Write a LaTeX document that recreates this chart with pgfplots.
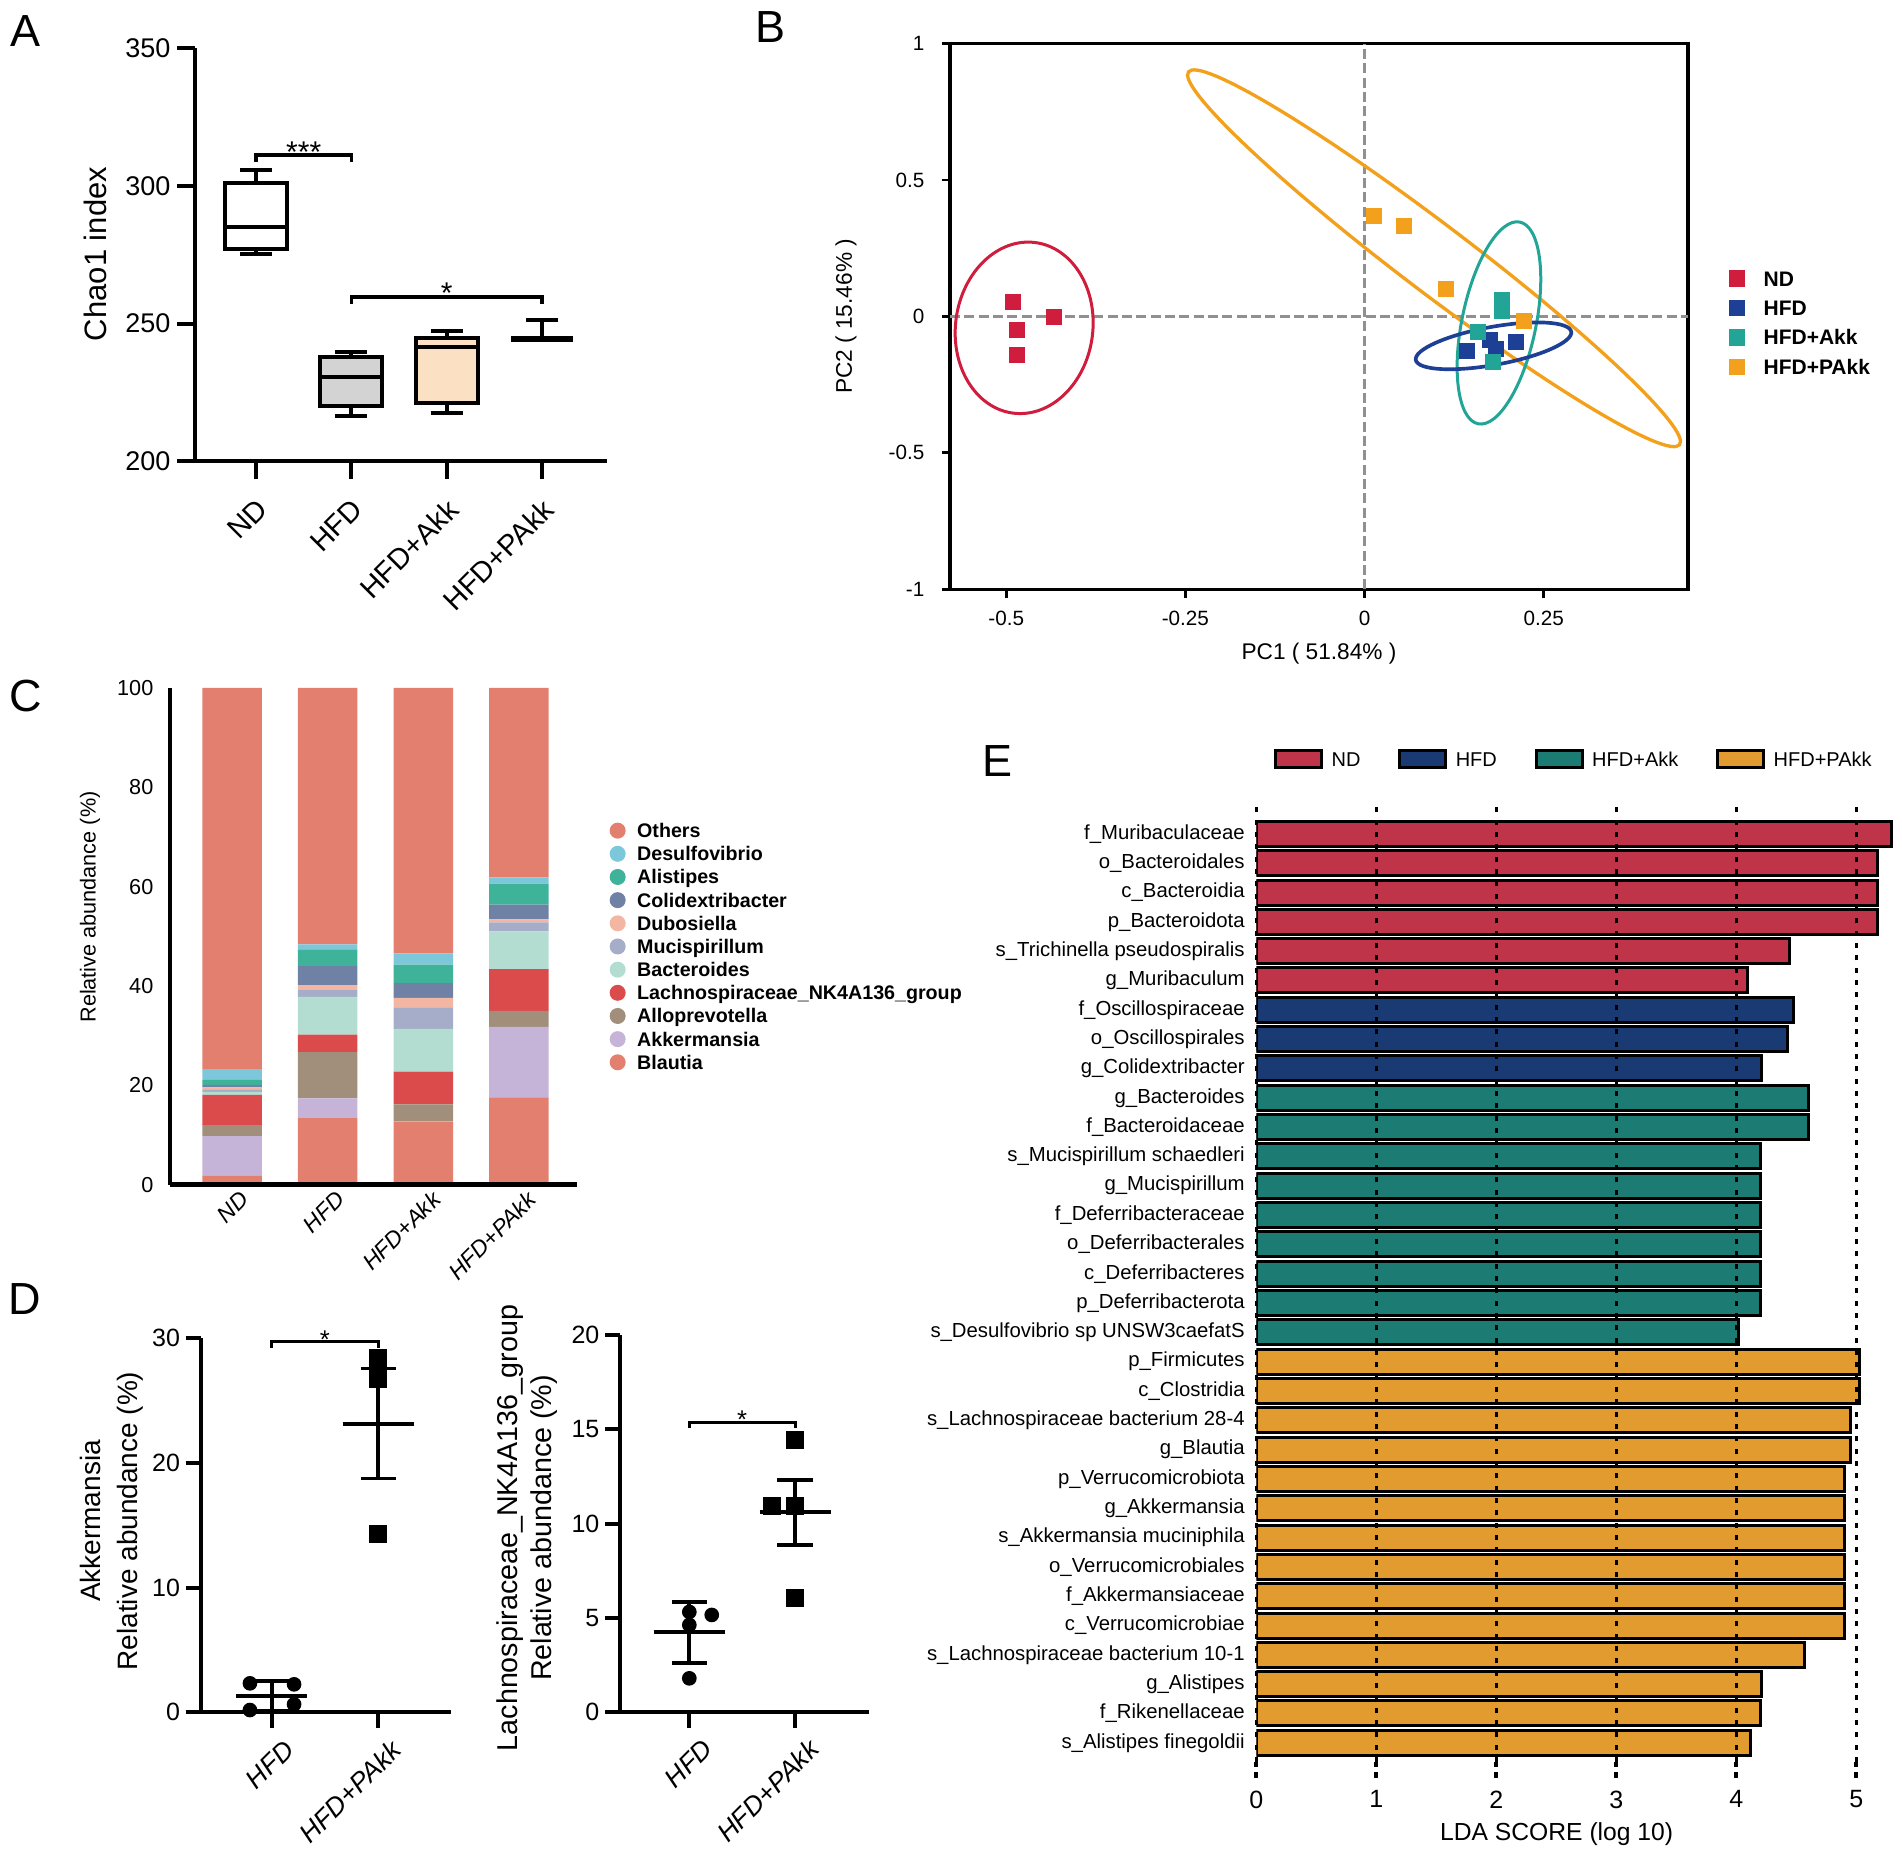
\documentclass[border=0pt]{standalone}
\usepackage{fontspec}
\setmainfont{Liberation Sans}
\usepackage{pgfplots}
\pgfplotsset{compat=1.18}
\pgfplotsset{/pgf/number format/assume math mode=true}

\newcommand\fs[2]{\fontsize{#1}{#2}\selectfont}

% panel A
\definecolor{aHFD}{HTML}{D3D3D3}
\definecolor{aAkk}{HTML}{FCE0C3}
% panel B
\definecolor{bND}{HTML}{D01C3D}
\definecolor{bHFD}{HTML}{1E3F96}
\definecolor{bAkk}{HTML}{22A597}
\definecolor{bPAkk}{HTML}{F3A11C}
\definecolor{dgray}{HTML}{909090}
% panel C
\definecolor{cOthers}{HTML}{E27F6E}
\definecolor{cDesulfo}{HTML}{7CC8DA}
\definecolor{cAlistipes}{HTML}{3FB39A}
\definecolor{cColidex}{HTML}{6F82A6}
\definecolor{cDubo}{HTML}{F3B6A2}
\definecolor{cMuci}{HTML}{A6ADC8}
\definecolor{cBacter}{HTML}{B3DDD1}
\definecolor{cLachno}{HTML}{DC4B4B}
\definecolor{cAllo}{HTML}{A18F7C}
\definecolor{cAkk}{HTML}{C6B4D8}
% panel E
\definecolor{eND}{HTML}{C0344A}
\definecolor{eHFD}{HTML}{193A72}
\definecolor{eAkk}{HTML}{1C7B72}
\definecolor{ePAkk}{HTML}{E19B2F}

\begin{document}
\begin{tikzpicture}
\path[use as bounding box] (0,0) rectangle (570.6pt,556.2pt);

%% ---------------- A: Chao1 boxplots (box = quartiles, whiskers = min/max)
\begin{axis}[
  at={(58.5pt,417.75pt)}, anchor=south west, scale only axis,
  width=123.6pt, height=124.05pt,
  xmin=0.36, xmax=4.682, ymin=200, ymax=350,
  axis x line*=bottom, axis y line*=left,
  axis line style={line width=1.2pt},
  tick align=outside, major tick length=5.4pt,
  tick style={black, line width=1.2pt},
  xtick={1,2,3,4}, xticklabels={ND,HFD,HFD+Akk,HFD+PAkk},
  ytick={200,250,300,350},
  tick label style={font=\fs{8.1}{9}},
  yticklabel style={inner sep=0pt, xshift=-1.8pt},
  xticklabel style={font=\fs{8.7}{9}, rotate=45, anchor=north east, inner sep=0pt, xshift=-3.8pt, yshift=-3.3pt},
  ylabel={Chao1 index},
  ylabel style={font=\fs{9.3}{10}, at={(axis description cs:-0.2427,0.5018)}, anchor=center},
  clip=false,
]
% boxes (lower quartile to upper quartile)
\addplot[draw=black, fill=white, line width=1.2pt]
  coordinates {(0.675,277.2) (1.325,277.2) (1.325,301.2) (0.675,301.2)} --cycle;
\addplot[draw=black, fill=aHFD, line width=1.2pt]
  coordinates {(1.675,220.2) (2.325,220.2) (2.325,238.0) (1.675,238.0)} --cycle;
\addplot[draw=black, fill=aAkk, line width=1.2pt]
  coordinates {(2.675,221.2) (3.325,221.2) (3.325,244.7) (2.675,244.7)} --cycle;
% medians, whiskers and caps
\addplot[black, line width=1.2pt, unbounded coords=jump] coordinates {
  (0.675,285.1) (1.325,285.1) (1,nan)
  (1,301.2) (1,305.6) (1,nan) (0.833,305.6) (1.167,305.6) (1,nan)
  (1,277.2) (1,275.4) (1,nan) (0.833,275.4) (1.167,275.4) (1,nan)
  (1.675,230.7) (2.325,230.7) (2,nan)
  (2,238.0) (2,239.8) (2,nan) (1.833,239.8) (2.167,239.8) (2,nan)
  (2,220.2) (2,216.5) (2,nan) (1.833,216.5) (2.167,216.5) (2,nan)
  (2.675,241.6) (3.325,241.6) (3,nan)
  (3,244.7) (3,247.4) (3,nan) (2.833,247.4) (3.167,247.4) (3,nan)
  (3,221.2) (3,217.7) (3,nan) (2.833,217.7) (3.167,217.7) (3,nan)
  (4,244.4) (4,251.2) (4,nan) (3.833,251.2) (4.167,251.2)};
\addplot[black, line width=1.9pt] coordinates {(3.675,244.4) (4.325,244.4)};
% significance brackets
\addplot[black, line width=1pt] coordinates {(1,308.8) (1,311.2) (2,311.2) (2,308.8)};
\node[anchor=north, inner sep=0pt, font=\fs{9}{10}] at (axis cs:1.5,316.2) {***};
\addplot[black, line width=1pt] coordinates {(2,257.2) (2,259.7) (4,259.7) (4,257.2)};
\node[anchor=north, inner sep=0pt, font=\fs{9}{10}] at (axis cs:3,264.9) {*};
\end{axis}

%% ---------------- B: PCA
\begin{axis}[
  at={(285pt,379.44pt)}, anchor=south west, scale only axis,
  width=221.4pt, height=163.68pt,
  xmin=-0.5785, xmax=0.4514, ymin=-1, ymax=1,
  axis line style={line width=1pt},
  tick pos=left, tick align=outside, major tick length=2.5pt,
  tick style={black, line width=0.8pt},
  xtick={-0.5,-0.25,0,0.25}, ytick={-1,-0.5,0,0.5,1},
  tick label style={font=\fs{6.2}{7}},
  yticklabel style={inner sep=0pt, xshift=-5pt},
  xticklabel style={inner sep=0pt, yshift=-3.8pt},
  xlabel={PC1 ( 51.84\% )}, ylabel={PC2 ( 15.46\% )},
  xlabel style={font=\fs{6.8}{8}, at={(axis description cs:0.5,-0.1188)}, anchor=center},
  ylabel style={font=\fs{6.8}{8}, at={(axis description cs:-0.1409,0.5)}, anchor=center},
  legend style={at={(1.0546,0.5854)}, anchor=north west, draw=none, fill=none,
    inner sep=0pt, row sep=3.93pt,
    nodes={inner sep=0pt, text height=4.5pt, text depth=0pt, font=\bfseries\fs{6.3}{7}},
    /tikz/every odd column/.append style={column sep=5.5pt}},
  legend cell align=left,
  legend image code/.code={\fill[#1] (0pt,-2.25pt) rectangle (4.5pt,2.25pt);},
]
\addplot[forget plot, draw=dgray, line width=1.1pt, dash pattern=on 3pt off 1.3pt]
  coordinates {(-0.5785,0) (0.4514,0)};
\addplot[forget plot, draw=dgray, line width=1.1pt, dash pattern=on 3pt off 1.3pt]
  coordinates {(0,-1) (0,1)};
\draw[bND, line width=0.9pt, rotate around={-7.5:(axis cs:-0.475,-0.042)}]
  (axis cs:-0.475,-0.042) ellipse [x radius=20.6pt, y radius=25.8pt];
\draw[bPAkk, line width=1pt, rotate around={-37.2:(axis cs:0.097,0.213)}]
  (axis cs:0.097,0.213) ellipse [x radius=92.5pt, y radius=10.2pt];
\draw[bAkk, line width=0.9pt, rotate around={-11.7:(axis cs:0.1876,-0.024)}]
  (axis cs:0.1876,-0.024) ellipse [x radius=11.1pt, y radius=30.9pt];
\draw[bHFD, line width=1.1pt, rotate around={10.3:(axis cs:0.180,-0.108)}]
  (axis cs:0.180,-0.108) ellipse [x radius=23.7pt, y radius=5.7pt];
\addplot[only marks, mark=square*, mark size=2.25pt, color=bND, mark options={line width=0.1pt}]
  coordinates {(-0.491,0.054) (-0.434,-0.001) (-0.486,-0.050) (-0.486,-0.141)};
\addlegendentry{ND}
\addplot[only marks, mark=square*, mark size=2.25pt, color=bHFD, mark options={line width=0.1pt}]
  coordinates {(0.143,-0.127) (0.175,-0.086) (0.183,-0.119) (0.211,-0.094)};
\addlegendentry{HFD}
\addplot[only marks, mark=square*, mark size=2.25pt, color=bAkk, mark options={line width=0.1pt}]
  coordinates {(0.192,0.061) (0.192,0.021) (0.158,-0.056) (0.179,-0.166)};
\addlegendentry{HFD+Akk}
\addplot[only marks, mark=square*, mark size=2.25pt, color=bPAkk, mark options={line width=0.1pt}]
  coordinates {(0.013,0.369) (0.055,0.331) (0.113,0.103) (0.222,-0.015)};
\addlegendentry{HFD+PAkk}
\end{axis}

%% ---------------- C: stacked relative abundance
\begin{axis}[
  at={(51pt,200.76pt)}, anchor=south west, scale only axis,
  width=122.1pt, height=149.04pt,
  xmin=0.351, xmax=4.607, ymin=0, ymax=100,
  axis x line*=bottom, axis y line*=left,
  axis line style={line width=1.2pt},
  x axis line style={line width=1.6pt},
  axis on top,
  major tick length=0pt,
  ybar stacked, bar width=17.85pt,
  xtick={1,2,3,4}, xticklabels={ND,HFD,HFD+Akk,HFD+PAkk},
  ytick={0,20,40,60,80,100},
  tick label style={font=\fs{6.5}{7}},
  xticklabel style={font=\itshape\fs{6.9}{8}, rotate=45, anchor=north east, inner sep=0pt, xshift=0.6pt, yshift=-2.4pt},
  yticklabel style={inner sep=0pt, xshift=-4.8pt},
  ylabel={Relative abundance (\%)},
  ylabel style={font=\fs{6.5}{7}, at={(axis description cs:-0.1966,0.5592)}, anchor=center},
  legend style={at={(1.0786,0.7303)}, anchor=north west, draw=none, fill=none,
    inner sep=0pt, row sep=2.15pt,
    nodes={inner sep=0pt, text height=4.2pt, text depth=0pt, font=\bfseries\fs{5.9}{7}},
    /tikz/every odd column/.append style={column sep=3.45pt}},
  legend cell align=left, reverse legend,
  every axis plot post/.append style={draw=none,
    legend image code/.code={\fill[##1] (2.4pt,0pt) circle[radius=2.4pt];}},
]
\addplot[fill=cOthers] coordinates {(1,1.8) (2,13.4) (3,12.6) (4,17.6)};
\addlegendentry{Blautia}
\addplot[fill=cAkk] coordinates {(1,8.0) (2,4.0) (3,0.1) (4,14.2)};
\addlegendentry{Akkermansia}
\addplot[fill=cAllo] coordinates {(1,2.2) (2,9.3) (3,3.5) (4,3.2)};
\addlegendentry{Alloprevotella}
\addplot[fill=cLachno] coordinates {(1,6.1) (2,3.5) (3,6.6) (4,8.4)};
\addlegendentry{Lachnospiraceae\_NK4A136\_group}
\addplot[fill=cBacter] coordinates {(1,0.6) (2,7.6) (3,8.6) (4,7.6)};
\addlegendentry{Bacteroides}
\addplot[fill=cMuci] coordinates {(1,0.5) (2,1.4) (3,4.2) (4,1.8)};
\addlegendentry{Mucispirillum}
\addplot[fill=cDubo] coordinates {(1,0.4) (2,1.0) (3,2.0) (4,0.6)};
\addlegendentry{Dubosiella}
\addplot[fill=cColidex] coordinates {(1,0.5) (2,3.8) (3,3.0) (4,3.0)};
\addlegendentry{Colidextribacter}
\addplot[fill=cAlistipes] coordinates {(1,1.0) (2,3.4) (3,3.7) (4,4.2)};
\addlegendentry{Alistipes}
\addplot[fill=cDesulfo] coordinates {(1,2.2) (2,1.0) (3,2.3) (4,1.3)};
\addlegendentry{Desulfovibrio}
\addplot[fill=cOthers] coordinates {(1,76.7) (2,51.6) (3,53.4) (4,38.1)};
\addlegendentry{Others}
\end{axis}

%% ---------------- D left: Akkermansia
\begin{axis}[
  at={(60.3pt,42.51pt)}, anchor=south west, scale only axis,
  width=75pt, height=112.29pt,
  xmin=0.337, xmax=2.682, ymin=0, ymax=30,
  axis x line*=bottom, axis y line*=left,
  axis line style={line width=1.2pt},
  tick align=outside, major tick length=4.6pt,
  tick style={black, line width=1.2pt},
  xtick={1,2}, xticklabels={HFD,HFD+PAkk}, ytick={0,10,20,30},
  tick label style={font=\fs{7.5}{8}},
  xticklabel style={font=\itshape\fs{8}{9}, rotate=45, anchor=north east, inner sep=0pt, xshift=0.2pt, yshift=-4.5pt},
  yticklabel style={inner sep=0pt, xshift=-1.5pt},
  ylabel={Akkermansia\\Relative abundance (\%)},
  ylabel style={align=center, font=\fs{8.4}{11.1}, at={(axis description cs:-0.358,0.511)}, anchor=center},
  clip=false,
]
\addplot[only marks, mark=*, mark size=2pt, black]
  coordinates {(0.796,2.32) (1.21,2.24) (0.796,0.18) (1.21,0.64)};
\addplot[only marks, mark=square*, mark size=2.5pt, black]
  coordinates {(2,28.4) (2,26.7) (2,14.3)};
% mean and error bars
\addplot[black, line width=1.1pt, unbounded coords=jump] coordinates {
  (0.665,1.31) (1.335,1.31) (1,nan)
  (1,0.09) (1,2.53) (1,nan)
  (0.834,2.53) (1.166,2.53) (1,nan)
  (0.834,0.09) (1.166,0.09) (1,nan)
  (1.665,23.1) (2.335,23.1) (2,nan)
  (2,18.75) (2,27.56) (2,nan)
  (1.834,27.56) (2.166,27.56) (2,nan)
  (1.834,18.75) (2.166,18.75)};
\addplot[black, line width=0.9pt] coordinates {(1,29.2) (1,29.7) (2,29.7) (2,29.2)};
\node[anchor=north, inner sep=0pt, font=\fs{7.7}{8}] at (axis cs:1.5,30.63) {*};
\end{axis}

%% ---------------- D right: Lachnospiraceae
\begin{axis}[
  at={(186.12pt,42.51pt)}, anchor=south west, scale only axis,
  width=74.46pt, height=113.19pt,
  xmin=0.348, xmax=2.696, ymin=0, ymax=20,
  axis x line*=bottom, axis y line*=left,
  axis line style={line width=1.2pt},
  tick align=outside, major tick length=4.6pt,
  tick style={black, line width=1.2pt},
  xtick={1,2}, xticklabels={HFD,HFD+PAkk}, ytick={0,5,10,15,20},
  tick label style={font=\fs{7.5}{8}},
  xticklabel style={font=\itshape\fs{8}{9}, rotate=45, anchor=north east, inner sep=0pt, xshift=0.6pt, yshift=-4.5pt},
  yticklabel style={inner sep=0pt, xshift=-1.5pt},
  ylabel={Lachnospiraceae\_NK4A136\_group\\Relative abundance (\%)},
  ylabel style={align=center, font=\fs{8.6}{10.2}, at={(axis description cs:-0.3763,0.4885)}, anchor=center},
  clip=false,
]
\addplot[only marks, mark=*, mark size=2pt, black]
  coordinates {(1,5.32) (1.212,5.16) (1,4.63) (1,1.80)};
\addplot[only marks, mark=square*, mark size=2.5pt, black]
  coordinates {(2,14.44) (1.785,10.94) (2,10.94) (2,6.04)};
\addplot[black, line width=1.1pt, unbounded coords=jump] coordinates {
  (0.664,4.24) (1.336,4.24) (1,nan)
  (1,2.60) (1,5.86) (1,nan)
  (0.834,5.86) (1.166,5.86) (1,nan)
  (0.834,2.60) (1.166,2.60) (1,nan)
  (1.664,10.60) (2.336,10.60) (2,nan)
  (2,8.87) (2,12.32) (2,nan)
  (1.834,12.32) (2.166,12.32) (2,nan)
  (1.834,8.87) (2.166,8.87)};
\addplot[black, line width=0.9pt] coordinates {(1,15.06) (1,15.36) (2,15.36) (2,15.06)};
\node[anchor=north, inner sep=0pt, font=\fs{7.7}{8}] at (axis cs:1.5,16.03) {*};
\end{axis}

%% ---------------- E: LDA scores
\begin{axis}[
  at={(376.9pt,27.6pt)}, anchor=south west, scale only axis,
  width=192.96pt, height=287.4pt,
  xmin=0, xmax=5.36, ymin=0.345, ymax=33.02,
  xbar, bar width=7.5pt,
  axis line style={draw=none},
  axis on top,
  xmajorgrids,
  major grid style={black, line width=1pt, dash pattern=on 1.5pt off 2.2pt},
  tick align=outside, tick pos=left, major tick length=4.8pt,
  xtick style={black, line width=1.2pt, dash pattern=on 1.8pt off 1.5pt},
  ytick style={draw=none},
  xtick={0,1,2,3,4,5},
  ytick={1,...,32},
  yticklabels={s\_Alistipes finegoldii, f\_Rikenellaceae, g\_Alistipes,
    s\_Lachnospiraceae bacterium 10-1, c\_Verrucomicrobiae, f\_Akkermansiaceae,
    o\_Verrucomicrobiales, s\_Akkermansia muciniphila, g\_Akkermansia,
    p\_Verrucomicrobiota, g\_Blautia, s\_Lachnospiraceae bacterium 28-4,
    c\_Clostridia, p\_Firmicutes, s\_Desulfovibrio sp UNSW3caefatS,
    p\_Deferribacterota, c\_Deferribacteres, o\_Deferribacterales,
    f\_Deferribacteraceae, g\_Mucispirillum, s\_Mucispirillum schaedleri,
    f\_Bacteroidaceae, g\_Bacteroides, g\_Colidextribacter, o\_Oscillospirales,
    f\_Oscillospiraceae, g\_Muribaculum, s\_Trichinella pseudospiralis,
    p\_Bacteroidota, c\_Bacteroidia, o\_Bacteroidales, f\_Muribaculaceae},
  xticklabel style={font=\fs{7.5}{8}, inner sep=0pt, yshift=-3.6pt},
  yticklabel style={font=\fs{6.1}{7}, inner sep=0pt, xshift=1.5pt},
  xlabel={LDA SCORE (log 10)},
  xlabel style={font=\fs{7.4}{8}, at={(axis description cs:0.4669,-0.0748)}, anchor=center},
  legend style={at={(0.0268,1.0466)}, anchor=west, draw=none, fill=none,
    inner sep=0pt, legend columns=4,
    nodes={inner sep=0pt, text height=4.3pt, text depth=0pt, font=\fs{6}{7}},
    /tikz/every odd column/.append style={column sep=2.5pt},
    /tikz/every even column/.append style={column sep=11.4pt}},
  legend cell align=left,
  every axis plot post/.append style={draw=black, line width=0.9pt, /pgf/bar shift=0pt,
    legend image code/.code={\draw[##1] (0pt,-2.55pt) rectangle (13.8pt,2.55pt);}},
]
\addplot[fill=eND] coordinates {(5.29,32) (5.18,31) (5.18,30) (5.18,29) (4.44,28) (4.09,27)};
\addlegendentry{ND}
\addplot[fill=eHFD] coordinates {(4.48,26) (4.43,25) (4.21,24)};
\addlegendentry{HFD}
\addplot[fill=eAkk] coordinates {(4.60,23) (4.60,22) (4.20,21) (4.20,20) (4.20,19)
  (4.20,18) (4.20,17) (4.20,16) (4.02,15)};
\addlegendentry{HFD+Akk}
\addplot[fill=ePAkk] coordinates {(5.03,14) (5.03,13) (4.95,12) (4.95,11) (4.90,10)
  (4.90,9) (4.90,8) (4.90,7) (4.90,6) (4.90,5) (4.57,4) (4.21,3) (4.20,2) (4.12,1)};
\addlegendentry{HFD+PAkk}
\end{axis}

%% panel letters
\node[font=\fs{13.5}{15}] at (7.8pt,546.9pt) {A};
\node[font=\fs{13.5}{15}] at (231.3pt,548.1pt) {B};
\node[font=\fs{13.5}{15}] at (7.8pt,347.4pt) {C};
\node[font=\fs{13.5}{15}] at (7.5pt,166.5pt) {D};
\node[font=\fs{13.5}{15}] at (299.1pt,327.9pt) {E};
\end{tikzpicture}
\end{document}
